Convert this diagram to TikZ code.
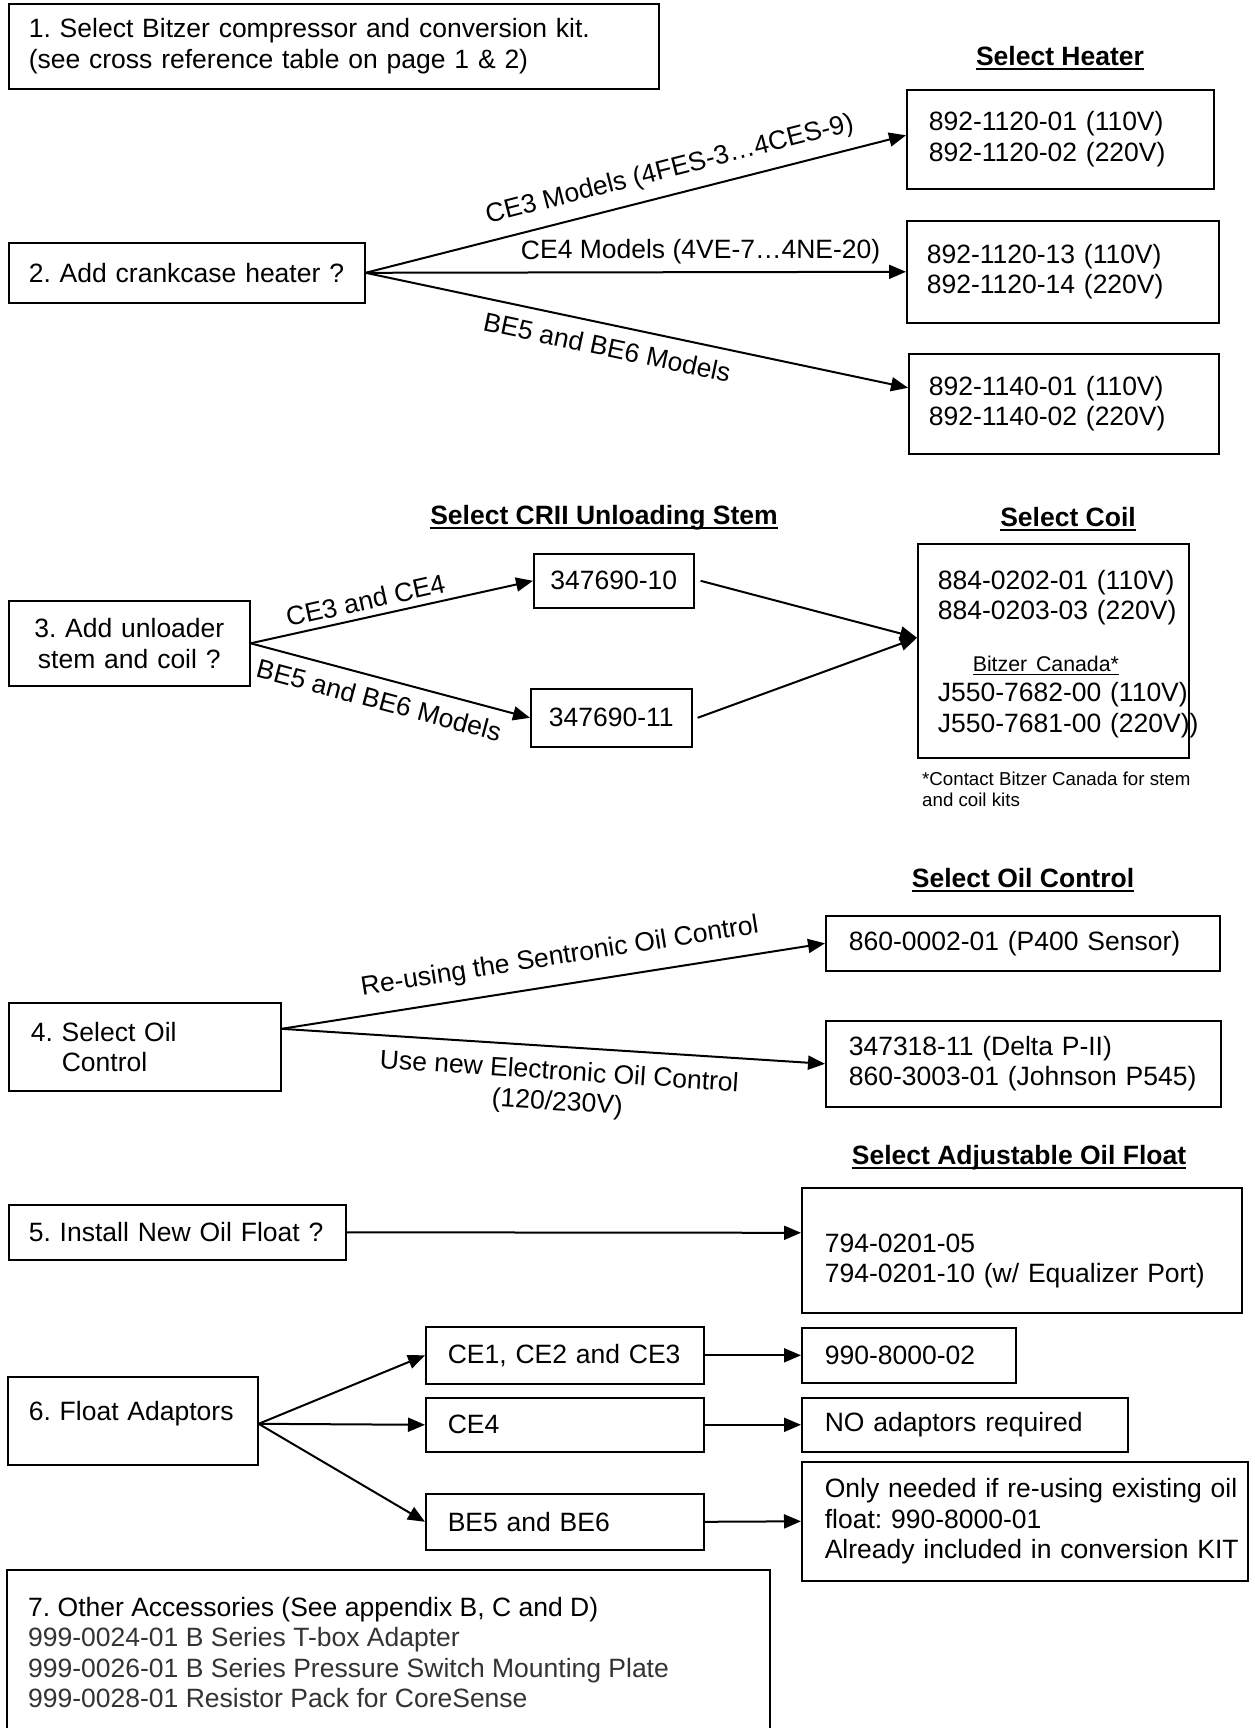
\documentclass[tikz,border=0pt]{standalone}
\usepackage{fontspec}
\setmainfont{Liberation Sans}
\usetikzlibrary{arrows.meta}
\definecolor{txtgray}{gray}{0.2}
\newsavebox\ulbox
\newcommand\ulx[1]{\sbox\ulbox{#1}\rlap{\rule[-4.5pt]{\wd\ulbox}{2pt}}\usebox\ulbox}
\newcommand\ulxs[1]{\sbox\ulbox{#1}\rlap{\rule[-3.6pt]{\wd\ulbox}{1.3pt}}\usebox\ulbox}
\begin{document}
\frenchspacing
\begin{tikzpicture}[x=1pt,y=-1pt,
  every node/.style={font=\fontsize{26.5}{30.5}\selectfont},
  box/.style={draw, line width=1.6pt, anchor=north west, inner ysep=0pt, align=left},
  ctr/.style={draw, line width=1.6pt, anchor=north west, inner ysep=0pt, inner xsep=0pt, align=center},
  conn/.style={line width=2pt, -{Triangle[length=17pt,width=14pt]}},
  lab/.style={inner sep=2pt, sloped},
  head/.style={anchor=base, inner sep=0pt, font=\fontsize{26.5}{30.5}\selectfont\bfseries},
]
\useasboundingbox (0,0) rectangle (1254,1728);

% ---- 1
\node[box, inner xsep=20pt, text width=610pt, minimum width=650pt, minimum height=85pt] (b1) at (8,3)
  {\mbox{1. Select Bitzer compressor and conversion kit.}\\\mbox{(see cross reference table on page 1 \& 2)}};

% ---- 2 heater
\node[head] (hhead) at (1060,65.5) {\ulx{Select Heater}};
\node[box, inner xsep=22pt, text width=263pt, minimum width=307pt, minimum height=99pt] (hA) at (906,89)
  {\mbox{892-1120-01 (110V)}\\\mbox{892-1120-02 (220V)}};
\node[box, inner xsep=20pt, text width=272pt, minimum width=312pt, minimum height=102pt] (hB) at (906,220)
  {\mbox{892-1120-13 (110V)}\\\mbox{892-1120-14 (220V)}};
\node[box, inner xsep=20pt, text width=270pt, minimum width=310pt, minimum height=100pt] (hC) at (908,353)
  {\mbox{892-1140-01 (110V)}\\\mbox{892-1140-02 (220V)}};
\node[box, inner xsep=20pt, text width=316pt, minimum width=356pt, minimum height=60pt] (b2) at (8,242)
  {\mbox{2. Add crankcase heater ?}};
\draw[conn] (b2.east) -- node[lab, above=9pt, pos=0.574] {CE3 Models (4FES-3…4CES-9)} ([yshift=4pt]hA.west);
\draw[conn] (b2.east) -- node[lab, above=5pt, pos=0.62] {CE4 Models (4VE-7…4NE-20)} (hB.west);
\draw[conn] (b2.east) -- node[lab, below=9.7pt, pos=0.454] {BE5 and BE6 Models} ([yshift=16pt]hC.west);

% ---- 3 unloader
\node[head] (shead) at (604,524.5) {\ulx{Select CRII Unloading Stem}};
\node[head] (chead) at (1068,526.5) {\ulx{Select Coil}};
\node[ctr, text width=241pt, minimum width=241pt, minimum height=85pt] (b3) at (8,600)
  {\mbox{3. Add unloader}\\\mbox{stem and coil ?}};
\node[ctr, text width=160pt, minimum width=160pt, minimum height=54pt] (s10) at (533,553) {347690-10};
\node[ctr, text width=161pt, minimum width=161pt, minimum height=58pt] (s11) at (530,688) {347690-11};
\node[box, inner xsep=20pt, text width=231pt, minimum width=271pt, minimum height=214pt] (coil) at (917,543)
  {\rule{0pt}{25.5pt}\mbox{884-0202-01 (110V)}\\\mbox{884-0203-03 (220V)}\\[21pt]
   \hspace*{35pt}{\fontsize{21.3}{30.5}\selectfont\ulxs{Bitzer Canada*}}\\
   \mbox{J550-7682-00 (110V)}\\\mbox{J550-7681-00 (220V))}};
\node[anchor=north west, inner sep=0pt, align=left, font=\fontsize{18.7}{21}\selectfont] (foot) at (922,772)
  {\mbox{*Contact Bitzer Canada for stem}\\and coil kits};
\draw[conn] (b3.east) -- node[lab, above=4.5pt, pos=0.42] {CE3 and CE4} (s10.west);
\draw[conn] (b3.east) -- node[lab, below=9pt, pos=0.48] {BE5 and BE6 Models} (s11.west);
\draw[conn] ([xshift=6pt]s10.east) -- ([yshift=13pt]coil.west);
\draw[conn] ([xshift=5pt]s11.east) -- ([yshift=13pt]coil.west);

% ---- 4 oil control
\node[head] (ohead) at (1023,887.5) {\ulx{Select Oil Control}};
\node[box, inner xsep=23pt, text width=348pt, minimum width=394pt, minimum height=55pt] (o1) at (825,915)
  {\mbox{860-0002-01 (P400 Sensor)}};
\node[box, inner xsep=23pt, text width=349pt, minimum width=395pt, minimum height=86pt] (o2) at (825,1020)
  {\mbox{347318-11 (Delta P-II)}\\\mbox{860-3003-01 (Johnson P545)}};
\node[box, inner xsep=22pt, text width=228pt, minimum width=272pt, minimum height=88pt] (b4) at (8,1002)
  {\mbox{4. Select Oil}\\\hspace*{31pt}Control};
\coordinate (b4o) at ([yshift=18pt]b4.east);
\draw[conn] (b4o) -- node[lab, above=12pt, pos=0.52] {Re-using the Sentronic Oil Control} (o1.west);
\draw[conn] (b4o) -- node[lab, below=11pt, pos=0.514, align=center] {Use new Electronic Oil Control\\(120/230V)} (o2.west);

% ---- 5 oil float
\node[head] (fhead) at (1019,1164.5) {\ulx{Select Adjustable Oil Float}};
\node[box, inner xsep=20pt, text width=297pt, minimum width=337pt, minimum height=55pt] (b5) at (8,1204)
  {\mbox{5. Install New Oil Float ?}};
\node[box, inner xsep=23pt, text width=394pt, minimum width=440pt, minimum height=125pt] (f1) at (801,1187)
  {\rule{0pt}{39.5pt}794-0201-05\\\mbox{794-0201-10 (w/ Equalizer Port)}};
\draw[conn] (b5.east) -- ([yshift=17.5pt]f1.west);

% ---- 6 float adaptors
\node[box, inner xsep=21pt, text width=208pt, minimum width=250pt, minimum height=88pt] (b6) at (7,1376)
  {\mbox{6. Float Adaptors}\rule[-19pt]{0pt}{1pt}};
\node[box, inner xsep=22pt, text width=234pt, minimum width=278pt, minimum height=57pt] (c1) at (425,1326) {\mbox{CE1, CE2 and CE3}};
\node[box, inner xsep=22pt, text width=234pt, minimum width=278pt, minimum height=54pt] (c2) at (425,1397) {CE4};
\node[box, inner xsep=22pt, text width=234pt, minimum width=278pt, minimum height=56pt] (c3) at (425,1493) {\mbox{BE5 and BE6}};
\node[box, inner xsep=23pt, text width=168pt, minimum width=214pt, minimum height=55pt] (r1) at (801,1327) {990-8000-02};
\node[box, inner xsep=23pt, text width=280pt, minimum width=326pt, minimum height=54pt] (r2) at (801,1397) {\mbox{NO adaptors required}};
\node[box, inner xsep=23pt, text width=400pt, minimum width=446pt, minimum height=119pt] (r3) at (801,1461)
  {\mbox{Only needed if re-using existing oil}\\\mbox{float: 990-8000-01}\\\mbox{Already included in conversion KIT}};
\coordinate (b6o) at ([yshift=-3pt]b6.east);
\draw[conn] (b6o) -- (c1.west);
\draw[conn] (b6o) -- (c2.west);
\draw[conn] (b6o) -- (c3.west);
\draw[conn] (c1.east) -- (r1.west);
\draw[conn] (c2.east) -- (r2.west);
\draw[conn] (c3.east) -- (r3.west);

% ---- 7 other accessories (open at bottom)
\node[anchor=north west, inner sep=0pt, align=left] (b7) at (28,1597)
  {\mbox{7. Other Accessories (See appendix B, C and D)}\\
   \mbox{\color{txtgray}999-0024-01 B Series T-box Adapter}\\
   \mbox{\color{txtgray}999-0026-01 B Series Pressure Switch Mounting Plate}\\
   \mbox{\color{txtgray}999-0028-01 Resistor Pack for CoreSense}};
\coordinate (b7bl) at (7,1728);
\coordinate (b7tl) at (7,1570);
\coordinate (b7tr) at (770,1570);
\coordinate (b7br) at (770,1728);
\draw[line width=1.6pt] (b7bl) -- (b7tl) -- (b7tr) -- (b7br);
\end{tikzpicture}
\end{document}
